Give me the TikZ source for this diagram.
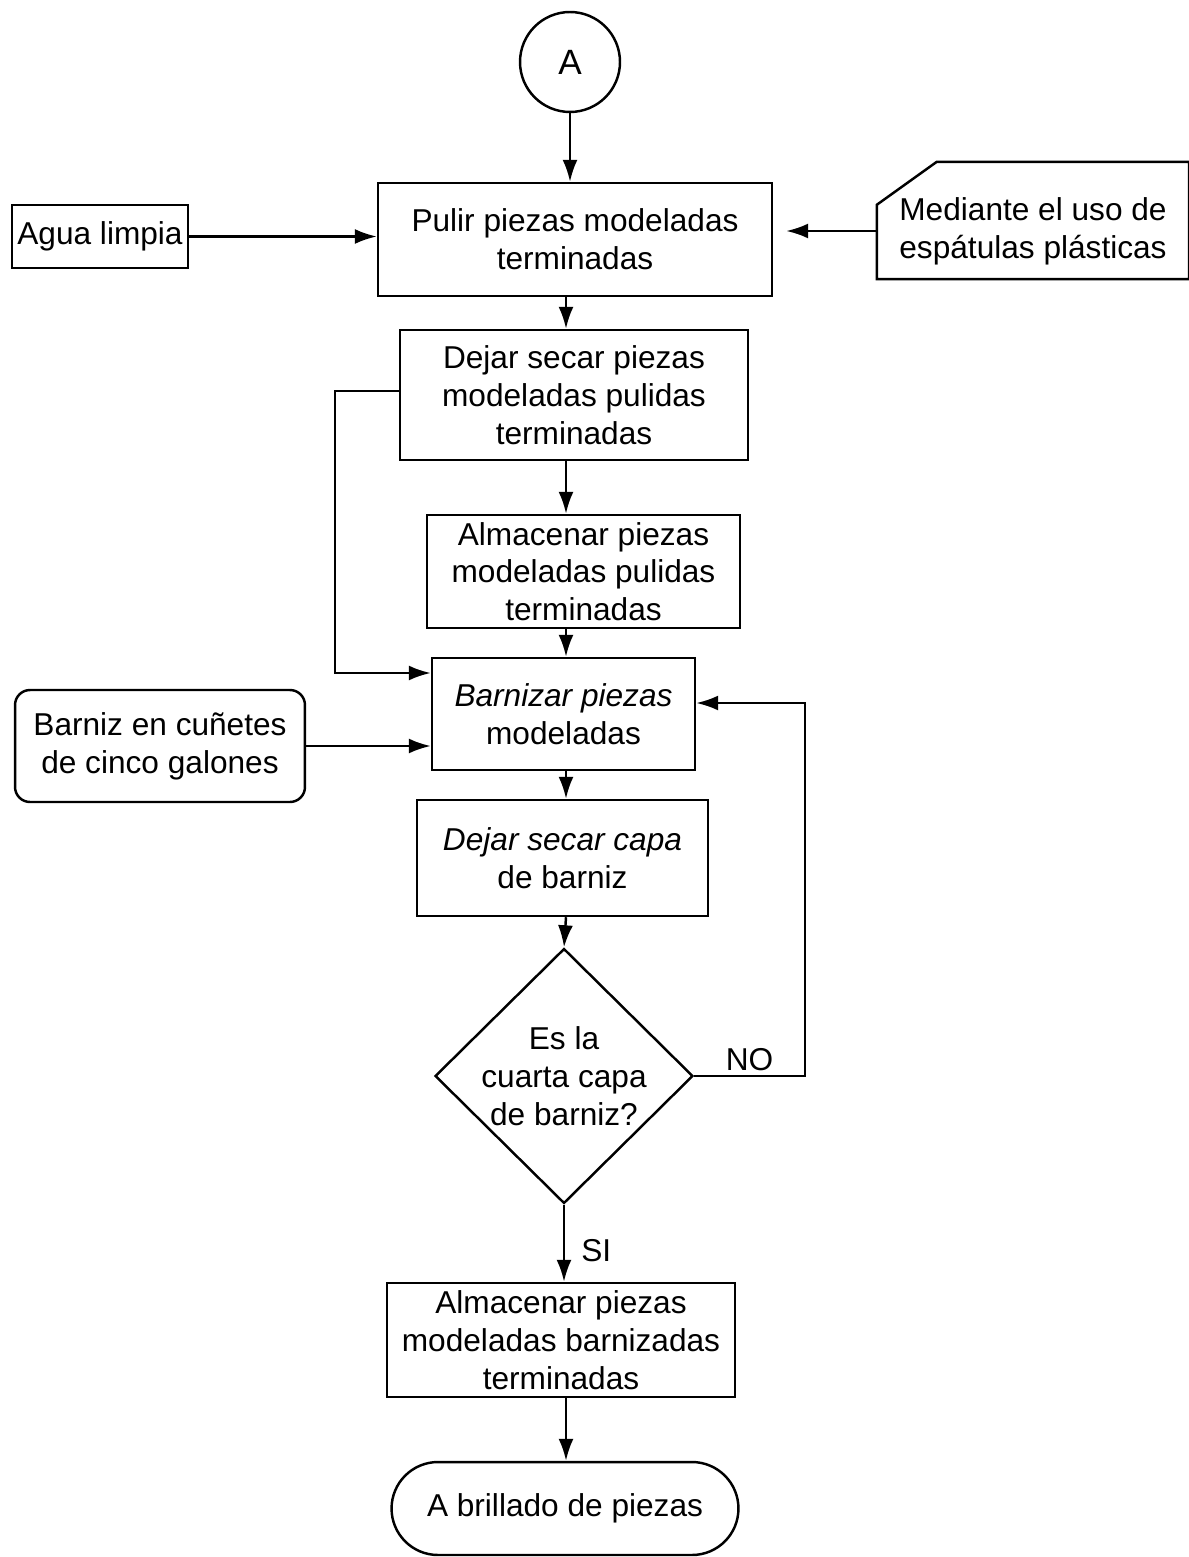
\documentclass[tikz,border=0pt]{standalone}
\usepackage{fontspec}
\setmainfont{Liberation Sans}
\usetikzlibrary{arrows.meta, calc, shapes.geometric, shapes.misc}

\begin{document}
\begin{tikzpicture}[x=0.02cm, y=-0.02cm, line width=1.4pt,
	every node/.style={font=\fontsize{18}{21.5}\selectfont, align=center, inner sep=2pt},
	caja/.style={draw, rectangle},
	nota/.style={rectangle},
	entrada/.style={draw, rectangle, rounded corners=0.3cm},
	decision/.style={draw, diamond, inner sep=-0.15cm},
	terminal/.style={draw, rounded rectangle},
	conector/.style={draw, circle, font=\fontsize{20}{24}\selectfont},
	flecha/.style={-{Latex[length=0.44cm,width=0.3cm]}}]
	\useasboundingbox (0,0) rectangle (1188,1557);
	\coordinate (eje) at (566,0);
	\coordinate (desvio) at (335,391);
	\coordinate (llegada) at (433,673);
	\coordinate (lazo) at (805,703);
	
	% Conector de inicio
	\node[conector, minimum size=2cm] (A) at (570,62) {A};
	
	% Pulido
	\node[caja, minimum width=7.88cm, minimum height=2.26cm] (pulir) at (575,239.5) {Pulir piezas modeladas\\terminadas};
	\node[caja, minimum width=3.52cm, minimum height=1.26cm] (agua) at (100,236.5) {Agua limpia};
	\node[nota, minimum width=6.2cm, minimum height=1.88cm] (espatulas) at (1033,231) {Mediante el uso de\\espátulas plásticas};
	% Esquina cortada de la nota
	\draw (espatulas.south west) -- ($(espatulas.north west)+(0,22)$) -- ($(espatulas.north west)+(60,-21)$)
		-- ($(espatulas.north east)+(0,-21)$) -- (espatulas.south east) -- cycle;
	
	% Secado y almacenamiento
	\node[caja, minimum width=6.96cm, minimum height=2.6cm] (secar) at (574,395) {Dejar secar piezas\\modeladas pulidas\\terminadas};
	\node[caja, minimum width=6.26cm, minimum height=2.26cm] (almacenar) at (583.5,571.5) {Almacenar piezas\\modeladas pulidas\\terminadas};
	
	% Barnizado
	\node[caja, minimum width=5.26cm, minimum height=2.24cm] (barnizar) at (563.5,714) {\itshape Barnizar piezas\\modeladas};
	\node[entrada, minimum width=5.8cm, minimum height=2.24cm] (barniz) at (160,746) {Barniz en cuñetes\\de cinco galones};
	\node[caja, minimum width=5.82cm, minimum height=2.32cm] (secacapa) at (562.5,858) {{\itshape Dejar secar capa}\\de barniz};
	
	% Decision
	\node[decision, minimum width=5.16cm, minimum height=5.1cm] (cuarta) at (564,1076) {Es la\\cuarta capa\\de barniz?};
	
	% Final
	\node[caja, minimum width=6.96cm, minimum height=2.28cm] (barnizadas) at (561,1340) {Almacenar piezas\\modeladas barnizadas\\terminadas};
	\node[terminal, minimum width=7.08cm, minimum height=1.86cm] (brillado) at (565,1508.5) {A brillado de piezas};
	
	% Flechas
	\draw[flecha] (A) -- (A |- pulir.north);
	\draw[flecha] (agua) -- (agua -| pulir.west);
	\draw[flecha, shorten >=0.26cm] (espatulas.west) -- (espatulas.west -| pulir.east);
	\draw[flecha] (pulir.south -| eje) -- (secar.north -| eje);
	\draw[flecha] (secar.south -| eje) -- (almacenar.north -| eje);
	\draw[flecha] (almacenar.south -| eje) -- (barnizar.north -| eje);
	\draw[flecha] (secar.west |- desvio) -- (desvio) |- (barnizar.west |- llegada);
	\draw[flecha] (barniz) -- (barniz -| barnizar.west);
	\draw[flecha] (barnizar.south -| eje) -- (secacapa.north -| eje);
	\draw[flecha] (secacapa.south -| eje) -- (cuarta.north);
	\draw[flecha] (cuarta.east) -| node[pos=0.25, above] (no) {NO} (lazo) -- (lazo -| barnizar.east);
	\draw[flecha] (cuarta.south) -- node[pos=0.59, right=0.25cm] (si) {SI} (cuarta.south |- barnizadas.north);
	\draw[flecha] (barnizadas.south -| eje) -- (brillado.north -| eje);
\end{tikzpicture}
\end{document}
